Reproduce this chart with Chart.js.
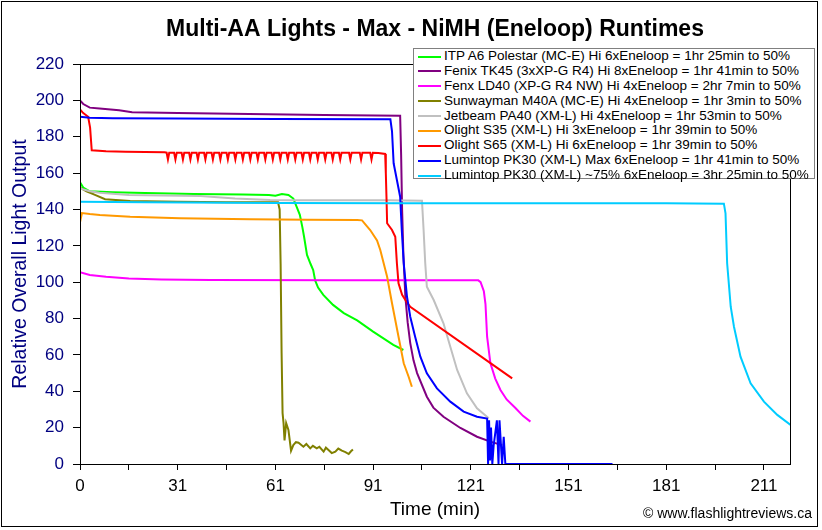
<!DOCTYPE html>
<html>
<head>
<meta charset="utf-8">
<script src="https://cdn.jsdelivr.net/npm/chart.js@4.4.1/dist/chart.umd.min.js"></script>
<style>
  html, body { margin: 0; padding: 0; background: #fff; }
  #wrap { position: relative; width: 822px; height: 530px; overflow: hidden; }
  #c { position: absolute; left: 0; top: 0; }
  #legend {
    position: absolute; left: 413px; top: 48px; width: 402px; height: 131px;
    box-sizing: border-box; border: 1px solid #808080; background: #fff;
    font-family: "Liberation Sans", Arial, sans-serif; font-size: 13.5px; color: #000;
    padding-top: 0px;
  }
  .row { position: relative; height: 14.9px; line-height: 14.9px; white-space: nowrap; }
  .sw { position: absolute; left: 4px; top: 6.5px; width: 23px; height: 2px; }
  .tx { position: absolute; left: 30px; top: 0; }
  #footer {
    position: absolute; right: 10px; top: 505px;
    font-family: "Liberation Sans", Arial, sans-serif; font-size: 14px; color: #000;
    white-space: nowrap;
  }
</style>
</head>
<body>
<div id="wrap">
  <canvas id="c" width="822" height="530"></canvas>
  <div id="legend"></div>
  <div id="footer">© www.flashlightreviews.ca</div>
</div>
<script>
// ---------- DATA ----------
const chartTitle = 'Multi-AA Lights - Max - NiMH (Eneloop) Runtimes';
const xAxisTitle = 'Time (min)';
const yAxisTitle = 'Relative Overall Light Output';
const xTickLabels = ['0', '31', '61', '91', '121', '151', '181', '211'];
const yMin = 0, yMax = 220, yStep = 20;

const seriesNames = [
  'ITP A6 Polestar (MC-E) Hi 6xEneloop = 1hr 25min to 50%',
  'Fenix TK45 (3xXP-G R4) Hi 8xEneloop = 1hr 41min to 50%',
  'Fenx LD40 (XP-G R4 NW) Hi 4xEneloop = 2hr 7min to 50%',
  'Sunwayman M40A (MC-E) Hi 4xEneloop = 1hr 3min to 50%',
  'Jetbeam PA40 (XM-L) Hi 4xEneloop = 1hr 53min to 50%',
  'Olight S35 (XM-L) Hi 3xEneloop = 1hr 39min to 50%',
  'Olight S65 (XM-L) Hi 6xEneloop = 1hr 39min to 50%',
  'Lumintop PK30 (XM-L) Max 6xEneloop = 1hr 41min to 50%',
  'Lumintop PK30 (XM-L) ~75% 6xEneloop = 3hr 25min to 50%'
];
const seriesColors = ['#00FF00', '#800080', '#FF00FF', '#808000', '#C0C0C0', '#FF9900', '#FF0000', '#0000FF', '#00CCFF'];

// [minutes, relative output]
const itpA6 = [[0,155],[1,152],[3,150],[10,149.5],[20,149],[35,148.5],[50,148.2],[58,148],[60,147.5],[62,148.5],[64,148],[65.5,146],[66.5,141.5],[67.5,137],[68.3,130],[68.8,125],[69.7,115],[70.8,110],[71.6,106.7],[72.2,101],[73.1,97],[74.7,93],[77.7,87.5],[81,83],[85.1,79],[90,72.8],[96.2,65.5],[99.3,62.7]];
const fenixTK45 = [[0,200],[1,198],[3,196],[6,195.5],[12,194.5],[16,193.5],[30,193],[52,192.5],[75,192],[98.3,191.5],[98.6,170],[98.9,140],[99.3,115],[99.9,92],[100.6,78],[101.4,66.5],[102.4,57],[103.5,50],[106.5,37],[108.5,31],[111.6,26],[116.8,19.8],[121.9,15],[126,12.3],[129.6,10.4]];
const fenixLD40 = [[0,105.5],[3,104],[8,103],[15,102],[25,101.5],[40,101.2],[80,101],[100,101],[110,101],[122.3,101],[123,100],[124,95],[124.5,88],[125,70],[126,55.5],[127.5,47],[129.1,40.7],[131,35.5],[133.7,30.8],[136,26.5],[138.3,23.3]];
const sunwaymanM40A = [[0,152],[2,150],[4.6,148],[7.7,145.6],[15.4,144.6],[30,144.3],[45,144],[60.8,144],[61.3,140],[61.6,110],[61.9,61],[62.2,28],[62.5,22.5],[62.8,13],[63.3,22.5],[64,18.7],[64.8,7.3],[65.5,10.4],[66.3,12],[67.1,11.7],[68.6,9.5],[69.5,11],[70.7,8.6],[71.5,10],[72.7,8.6],[73.5,9.5],[74.8,6.8],[75.5,9],[76.3,7.7],[77.3,6],[78.4,6.8],[79.3,8.5],[80.4,7.3],[81.5,6.5],[82.5,5.5],[83.2,7],[83.8,8]];
const jetbeamPA40 = [[0,151.5],[3,150],[6,149.2],[15,148],[25,147.7],[37,147.4],[47.6,146],[58.4,145.2],[65,145],[80,145],[95,145],[105,144.8],[105.5,128.7],[106,110.5],[106.5,97.5],[108.6,90.2],[111.6,77.4],[113.7,64.5],[115.8,51.7],[118.8,38.9],[121.9,30.6],[125.5,25.1]];
const olightS35 = [[0,133],[0.6,138],[3,137.5],[6.1,137],[15.4,136],[30.7,135.1],[52.2,134.6],[70,134.3],[85.1,134.2],[86.6,134],[88,131],[89.1,128.7],[91.2,123],[92.2,117.7],[94.3,103],[95.8,88.4],[97.8,70],[99.4,55.4],[100.9,48],[101.9,42.5]];
const olightS65 = [[0,195],[1,193],[2.5,191],[3.1,185],[3.6,172.5],[8,172],[14,171.8],[20,171.6],[26,171.4],
  [26.6,171.2],[27,167.5],[27.4,171.2],[28.9,171.2],[29.3,167.5],[29.7,171.2],[31.2,171.2],[31.6,167.5],[32,171.2],
  [33.5,171.2],[33.9,167.5],[34.3,171.2],[35.8,171.2],[36.2,167.5],[36.6,171.2],[38.1,171.2],[38.5,167.5],[38.9,171.2],
  [40.4,171.2],[40.8,167.5],[41.2,171.2],[42.7,171.2],[43.1,167.5],[43.5,171.2],[45,171.2],[45.4,167.5],[45.8,171.2],
  [47.3,171.2],[47.7,167.5],[48.1,171.2],[49.6,171.2],[50,167.5],[50.4,171.2],[51.9,171.2],[52.3,167.5],[52.7,171.2],
  [54.2,171.2],[54.6,167.5],[55,171.2],[56.5,171.2],[56.9,167.5],[57.3,171.2],[58.8,171.2],[59.2,167.5],[59.6,171.2],
  [61.1,171.2],[61.5,167.5],[61.9,171.2],[63.4,171.2],[63.8,167.5],[64.2,171.2],[65.7,171.2],[66.1,167.5],[66.5,171.2],
  [68,171.2],[68.4,167.5],[68.8,171.2],[70.3,171.2],[70.7,167.5],[71.1,171.2],[72.6,171.2],[73,167.5],[73.4,171.2],
  [74.9,171.2],[75.3,167.5],[75.7,171.2],[77.2,171.2],[77.6,167.5],[78,171.2],[79.5,171.2],[79.9,167.5],[80.3,171.2],
  [82.6,171.2],[83,167.5],[83.4,171.2],[85.9,171.2],[86.3,167.5],[86.7,171.2],[89.1,171.2],[89.5,167.5],[89.9,171.2],
  [91.6,171],[93.7,170.5],[93.9,160],[94.1,147],[94.3,132.4],[95.8,128.7],[96.8,125],[97.3,110.4],[97.8,99.4],[98.9,93],[99.9,90.2],[101.4,86.5],[132.7,47.1]];
const lumintopMax = [[0,191],[3,190.5],[10,190.2],[30,190],[60,189.8],[95.3,189.6],[95.8,183],[96.3,165.4],[97.3,156.2],[98.3,147],[98.8,128.7],[99.4,110.4],[100.4,92],[101.4,81],[102.9,70],[104.5,59],[106.5,49.9],[109.6,41.6],[113.7,34.3],[117.8,28.8],[121.9,26],[125,25],[125.3,0],[125.6,24],[125.9,2],[126.2,20],[126.6,0],[127,10],[128,24],[128.5,0],[128.8,24],[129.6,0],[130.1,15],[130.6,0],[163.5,0]];
const lumintop75 = [[0,144.3],[20,144],[60,143.5],[100,143.4],[150,143.4],[180,143.4],[197.7,143.2],[198.2,137.9],[198.7,110.4],[199.8,86.5],[200.8,75.5],[202.8,59],[205.9,44.4],[210,34.3],[214.1,27],[218.2,21.5]];

const seriesData = [itpA6, fenixTK45, fenixLD40, sunwaymanM40A, jetbeamPA40, olightS35, olightS65, lumintopMax, lumintop75];

// ---------- CHART ----------
Chart.defaults.font.family = '"Liberation Sans", Arial, sans-serif';

const datasets = seriesData.map((d, i) => ({
  label: seriesNames[i],
  data: d.map(p => ({ x: p[0], y: p[1] })),
  borderColor: seriesColors[i],
  backgroundColor: seriesColors[i],
  borderWidth: 2,
  pointRadius: 0,
  tension: 0,
  fill: false,
  order: seriesData.length - i
}));

const frame = {
  id: 'frame',
  afterLayout(chart) {
    const t = chart.titleBlock;
    if (t) { t.left = chart.chartArea.left; t.right = chart.chartArea.right; }
  },
  beforeDraw(chart) {
    const ctx = chart.ctx;
    ctx.save();
    ctx.fillStyle = '#fff';
    ctx.fillRect(0, 0, chart.width, chart.height);
    ctx.restore();
  },
  afterDraw(chart) {
    const { ctx, chartArea: a } = chart;
    ctx.save();
    ctx.strokeStyle = '#000';
    ctx.lineWidth = 1;
    ctx.strokeRect(Math.round(a.left) + 0.5, Math.round(a.top) + 0.5, Math.round(a.right - a.left), Math.round(a.bottom - a.top));
    ctx.strokeRect(1.5, 1.5, 816, 525);
    ctx.restore();
  }
};

const tickStep = 15;
new Chart(document.getElementById('c'), {
  type: 'line',
  data: { datasets },
  options: {
    responsive: false,
    animation: false,
    devicePixelRatio: 1,
    layout: { padding: { left: 0, right: 32, top: 0, bottom: 0 } },
    plugins: {
      legend: { display: false },
      tooltip: { enabled: false },
      title: {
        display: true, text: chartTitle, color: '#000',
        font: { size: 23, weight: 'bold' },
        padding: { top: 16, bottom: 20.4 }
      }
    },
    scales: {
      x: {
        type: 'linear', min: 0, max: 218,
        afterBuildTicks: s => {
          const t = [];
          for (let k = 0; k < xTickLabels.length * 2 - 1; k++) t.push({ value: k * tickStep });
          s.ticks = t;
        },
        afterFit: s => { s.height = 66; },
        ticks: {
          autoSkip: false, maxRotation: 0, minRotation: 0, color: '#000',
          font: { size: 17 }, padding: 6,
          callback: (v, i) => (i % 2 === 0 ? xTickLabels[i / 2] : '')
        },
        grid: { drawOnChartArea: false, drawTicks: true, tickLength: 6, color: '#000' },
        border: { display: true, color: '#000', width: 1 },
        title: { display: true, text: xAxisTitle, color: '#000', font: { size: 19 }, padding: { top: 0, bottom: 9 } }
      },
      y: {
        min: yMin, max: yMax,
        afterFit: s => { s.width = 80; },
        ticks: { stepSize: yStep, color: '#000080', font: { size: 17 }, padding: 9 },
        grid: { drawOnChartArea: false, drawTicks: true, tickLength: 7, color: '#000' },
        border: { display: true, color: '#000', width: 1 },
        title: { display: true, text: yAxisTitle, color: '#000080', font: { size: 19.5 }, padding: { top: 9, bottom: 0 } }
      }
    }
  },
  plugins: [frame]
});

// ---------- LEGEND (HTML) ----------
const leg = document.getElementById('legend');
seriesNames.forEach((name, i) => {
  const row = document.createElement('div');
  row.className = 'row';
  const sw = document.createElement('div');
  sw.className = 'sw';
  sw.style.background = seriesColors[i];
  const tx = document.createElement('span');
  tx.className = 'tx';
  tx.textContent = name;
  row.appendChild(sw);
  row.appendChild(tx);
  leg.appendChild(row);
});
</script>
</body>
</html>
